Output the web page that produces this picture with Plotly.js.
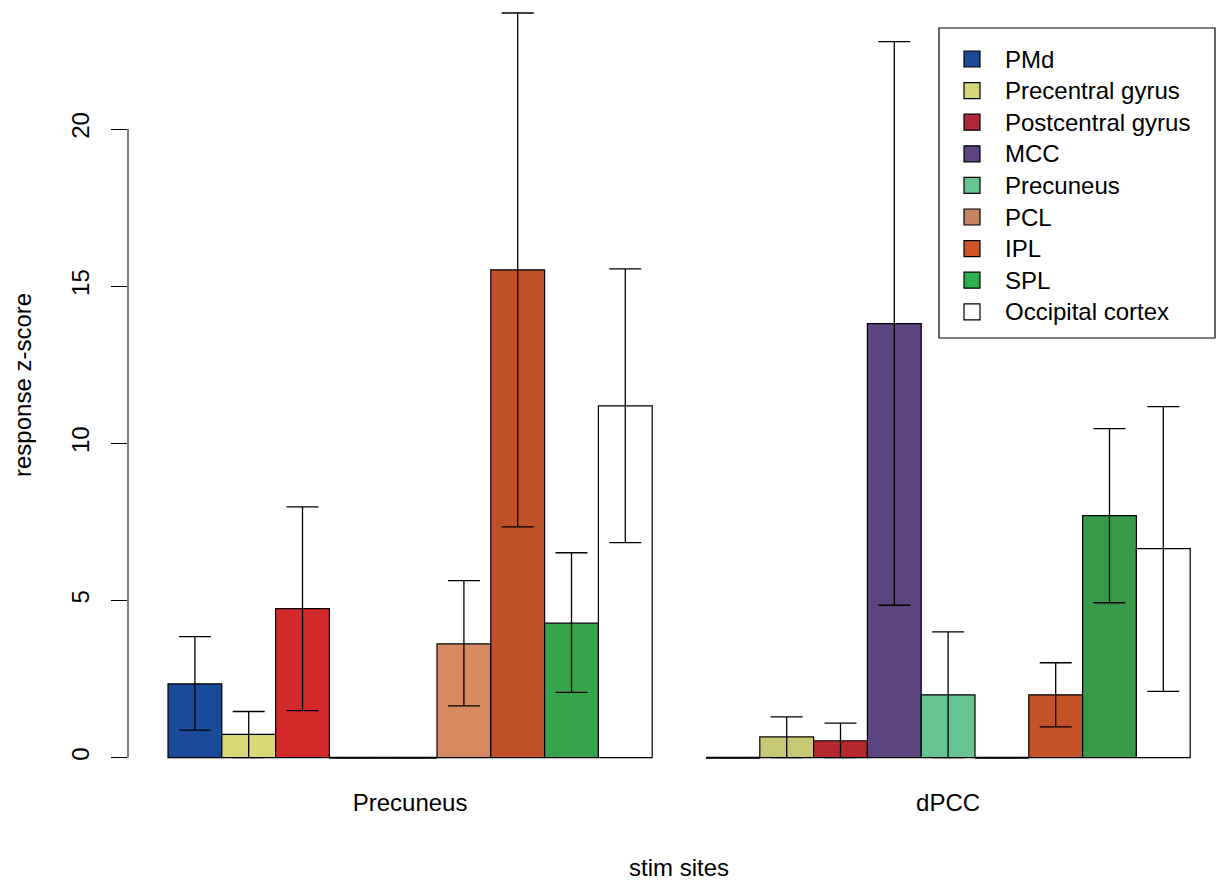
<!DOCTYPE html>
<html>
<head>
<meta charset="utf-8">
<script src="https://cdn.plot.ly/plotly-3.0.1.min.js"></script>
<style>html,body{margin:0;padding:0;background:#fff;}#chart{width:1218px;height:881px;}</style>
</head>
<body>
<div id="chart"></div>
<script>
// ---- data ----
const groups = ['Precuneus', 'dPCC'];
const series = ['PMd', 'Precentral gyrus', 'Postcentral gyrus', 'MCC', 'Precuneus', 'PCL', 'IPL', 'SPL', 'Occipital cortex'];

const meanPrecuneus  = [2.35, 0.74, 4.74, 0, 0, 3.62, 15.52, 4.28, 11.19];
const upperPrecuneus = [3.85, 1.47, 7.98, 0, 0, 5.63, 23.69, 6.52, 15.55];
const lowerPrecuneus = [0.88, 0.00, 1.50, 0, 0, 1.65, 7.34, 2.08, 6.84];

const meanDPCC  = [0, 0.66, 0.54, 13.81, 2.00, 0, 2.00, 7.70, 6.65];
const upperDPCC = [0, 1.30, 1.10, 22.78, 4.00, 0, 3.02, 10.47, 11.17];
const lowerDPCC = [0, 0.00, 0.00, 4.85, 0.00, 0, 0.98, 4.93, 2.11];

const colorsPrecuneus = ['#1a4b9b', '#d9d978', '#d4292a', '#5b4480', '#66c490', '#d58a60', '#c05028', '#37a34a', '#ffffff'];
const colorsDPCC      = ['#1a4b9b', '#c6c874', '#b5282e', '#5b4480', '#66c490', '#d58a60', '#c35229', '#379a48', '#ffffff'];
const colorsLegend    = ['#1a4b97', '#d4d67c', '#b0283a', '#5a4482', '#66c492', '#c58462', '#cf5228', '#30b04c', '#ffffff'];

const yTicks = [0, 5, 10, 15, 20];
const xTitle = 'stim sites';
const yTitle = 'response z-score';

// ---- build traces ----
const means = [meanPrecuneus, meanDPCC];
const uppers = [upperPrecuneus, upperDPCC];
const lowers = [lowerPrecuneus, lowerDPCC];
const groupColors = [colorsPrecuneus, colorsDPCC];
const nS = series.length;
const FONT = 'Liberation Sans, Arial, Helvetica, sans-serif';
const FS = 24;

// bar centre positions (R barplot style: one bar-width gap before each group)
function pos(g, s) { return g * (nS + 1) + 1.5 + s; }

const traces = [];
series.forEach((name, s) => {
  const xs = [], ys = [], ep = [], em = [], cols = [];
  groups.forEach((gname, g) => {
    const v = means[g][s];
    xs.push(pos(g, s));
    ys.push(v);
    ep.push(v > 0 ? uppers[g][s] - v : null);
    em.push(v > 0 ? v - lowers[g][s] : null);
    cols.push(groupColors[g][s]);
  });
  traces.push({
    type: 'bar', x: xs, y: ys, width: 1, name: name, showlegend: false,
    marker: { color: cols, line: { color: '#000', width: 1.2 } },
    error_y: { type: 'data', symmetric: false, array: ep, arrayminus: em,
               color: '#000', thickness: 1.3, width: 16 },
    hoverinfo: 'x+y'
  });
});

// zero-height bars are drawn as a flat line on the baseline
const zx = [], zy = [];
groups.forEach((gname, g) => {
  series.forEach((name, s) => {
    if (means[g][s] === 0) {
      zx.push(pos(g, s) - 0.5, pos(g, s) + 0.5, null);
      zy.push(0, 0, null);
    }
  });
});
traces.push({ type: 'scatter', mode: 'lines', x: zx, y: zy, showlegend: false,
  line: { color: '#000', width: 2 }, hoverinfo: 'skip' });

// legend entries
series.forEach((name, s) => {
  traces.push({ type: 'scatter', mode: 'markers', x: [null], y: [null],
    name: '<span style="font-size:' + FS + 'px">' + name + '</span>',
    marker: { symbol: 'square', size: 16, color: colorsLegend[s], line: { color: '#000', width: 1.2 } },
    hoverinfo: 'skip' });
});

const W = 1218, H = 881, L = 128, B = 95;
const PW = W - L, PH = H - B;
const pxPerUnit = 31.435;
const barPx = 53.8;
const zeroPx = 757.7;

const layout = {
  width: W, height: H,
  margin: { l: L, r: 0, t: 0, b: B, pad: 0 },
  paper_bgcolor: '#fff', plot_bgcolor: '#fff',
  font: { family: FONT, size: FS, color: '#000' },
  barmode: 'overlay',
  xaxis: {
    range: [1 - 40 / barPx, 1 + (W - 168) / barPx],
    tickmode: 'array',
    tickvals: groups.map((g, i) => pos(i, (nS - 1) / 2)),
    ticktext: groups,
    ticks: '', showline: false, showgrid: false, zeroline: false,
    tickfont: { family: FONT, size: FS, color: '#000' },
    ticklabelstandoff: 0,
    fixedrange: true
  },
  yaxis: {
    range: [-(PH - zeroPx) / pxPerUnit, zeroPx / pxPerUnit],
    tickmode: 'array', tickvals: yTicks, ticktext: yTicks.map(String),
    ticks: 'outside', ticklen: 16, tickwidth: 1, tickcolor: '#000',
    tickangle: -90,
    ticklabelstandoff: 12,
    showline: false, showgrid: false, zeroline: false,
    tickfont: { family: FONT, size: FS, color: '#000' },
    fixedrange: true
  },
  showlegend: true,
  legend: {
    x: (939 - L) / PW, xanchor: 'left',
    y: 1 - 38.2 / PH, yanchor: 'top',
    bgcolor: 'rgba(0,0,0,0)', borderwidth: 0,
    itemwidth: 56,
    font: { family: FONT, size: 22, color: '#000' },
    itemclick: false, itemdoubleclick: false
  },
  shapes: [
    { type: 'line', xref: 'paper', yref: 'y', x0: 0, x1: 0, y0: yTicks[0], y1: yTicks[yTicks.length - 1],
      line: { color: '#000', width: 1 } },
    { type: 'rect', xref: 'paper', yref: 'paper', layer: 'below',
      x0: (939 - L) / PW, x1: (1215 - L) / PW, y0: 1 - 338 / PH, y1: 1 - 28 / PH,
      line: { color: '#000', width: 1.2 }, fillcolor: '#fff' }
  ],
  annotations: [
    { text: xTitle, xref: 'x', yref: 'paper', x: 10.5, y: -(867 - PH) / PH,
      xanchor: 'center', yanchor: 'middle', showarrow: false,
      font: { family: FONT, size: FS, color: '#000' } },
    { text: yTitle, xref: 'paper', yref: 'paper', x: (22 - L) / PW, y: 1 - 385 / PH,
      xanchor: 'center', yanchor: 'middle', textangle: -90, showarrow: false,
      font: { family: FONT, size: FS, color: '#000' } }
  ]
};

Plotly.newPlot('chart', traces, layout, { displayModeBar: false, staticPlot: true });
</script>
</body>
</html>
